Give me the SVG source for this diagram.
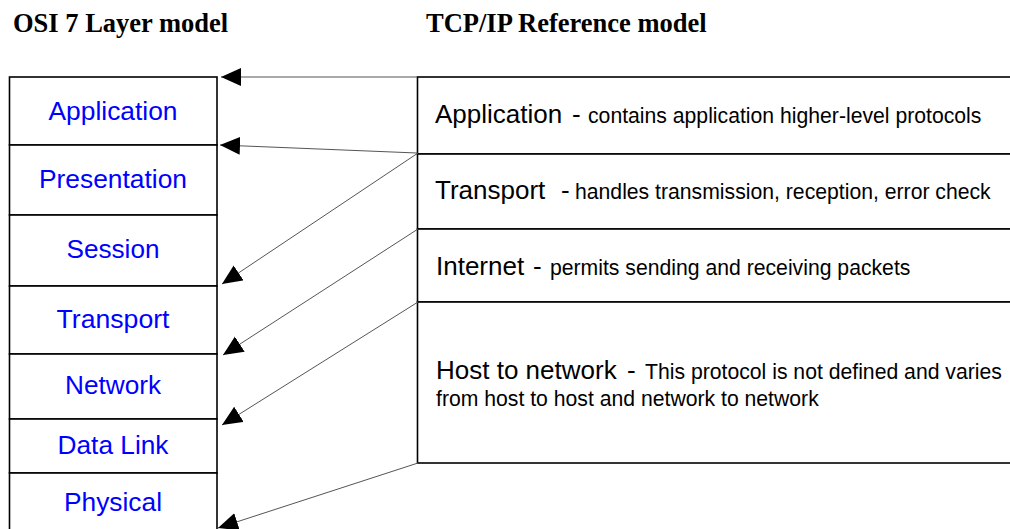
<svg xmlns="http://www.w3.org/2000/svg" width="1010" height="529" viewBox="0 0 1010 529">
<style>
.box{fill:#fff;stroke:#000;stroke-width:1.6}
.osi{font-family:"Liberation Sans",Arial,sans-serif;font-size:26px;fill:#0000ff;text-anchor:middle}
.lbl{font-family:"Liberation Sans",Arial,sans-serif;font-size:26px;fill:#000}
.small{font-size:21.2px}
.head{font-family:"Liberation Serif","Times New Roman",serif;font-weight:bold;font-size:26.5px;fill:#000}
.conn{stroke:#555;stroke-width:1;fill:none;marker-end:url(#arr)}
</style>
<defs>
<marker id="arr" markerUnits="userSpaceOnUse" markerWidth="21" markerHeight="19" refX="20" refY="9" orient="auto">
<path d="M0,0 L20,9 L0,18 z" fill="#000"/>
</marker>
</defs>
<rect width="1010" height="529" fill="#fff"/>
<text class="head" x="13" y="32">OSI 7 Layer model</text>
<text class="head" x="426" y="32">TCP/IP Reference model</text>

<g id="osi-application"><rect class="box" x="9.5" y="77" width="207.5" height="68"/><text class="osi" x="113" y="120" textLength="129" lengthAdjust="spacingAndGlyphs">Application</text></g>
<g id="osi-presentation"><rect class="box" x="9.5" y="145" width="207.5" height="70"/><text class="osi" x="113" y="188" textLength="148" lengthAdjust="spacingAndGlyphs">Presentation</text></g>
<g id="osi-session"><rect class="box" x="9.5" y="215" width="207.5" height="71"/><text class="osi" x="113" y="258" textLength="93" lengthAdjust="spacingAndGlyphs">Session</text></g>
<g id="osi-transport"><rect class="box" x="9.5" y="286" width="207.5" height="68"/><text class="osi" x="113" y="328" textLength="113" lengthAdjust="spacingAndGlyphs">Transport</text></g>
<g id="osi-network"><rect class="box" x="9.5" y="354" width="207.5" height="65"/><text class="osi" x="113" y="394" textLength="96" lengthAdjust="spacingAndGlyphs">Network</text></g>
<g id="osi-datalink"><rect class="box" x="9.5" y="419" width="207.5" height="54"/><text class="osi" x="113" y="454" textLength="111" lengthAdjust="spacingAndGlyphs">Data Link</text></g>
<g id="osi-physical"><rect class="box" x="9.5" y="473" width="207.5" height="80"/><text class="osi" x="113" y="511" textLength="98" lengthAdjust="spacingAndGlyphs">Physical</text></g>

<g id="tcp-application"><rect class="box" x="417.5" y="77" width="620" height="77"/>
<text class="lbl" y="123"><tspan x="435">Application</tspan><tspan x="572">-</tspan><tspan class="small" x="588">contains application higher-level protocols</tspan></text></g>
<g id="tcp-transport"><rect class="box" x="417.5" y="154" width="620" height="75"/>
<text class="lbl" y="199"><tspan x="435">Transport</tspan><tspan x="561">-</tspan><tspan class="small" x="575">handles transmission, reception, error check</tspan></text></g>
<g id="tcp-internet"><rect class="box" x="417.5" y="229" width="620" height="73"/>
<text class="lbl" y="275"><tspan x="436">Internet</tspan><tspan x="533">-</tspan><tspan class="small" x="550">permits sending and receiving packets</tspan></text></g>
<g id="tcp-host"><rect class="box" x="417.5" y="302" width="620" height="161"/>
<text class="lbl" y="379"><tspan x="436">Host to network</tspan><tspan x="627">-</tspan><tspan class="small" x="645">This protocol is not defined and varies</tspan></text>
<text class="lbl small" x="436" y="406">from host to host and network to network</text></g>

<g id="connectors">
<line class="conn" x1="417" y1="77" x2="221" y2="77"/>
<line class="conn" x1="417" y1="153" x2="220" y2="145"/>
<line class="conn" x1="418" y1="153" x2="222" y2="284"/>
<line class="conn" x1="418" y1="229" x2="223" y2="355"/>
<line class="conn" x1="418" y1="302" x2="222" y2="425"/>
<line class="conn" x1="418" y1="463" x2="218" y2="528"/>
</g>
</svg>
